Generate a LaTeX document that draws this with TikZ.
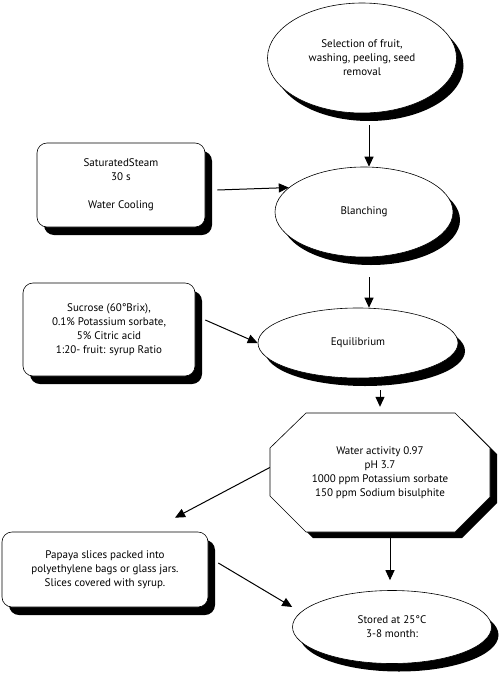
\documentclass[tikz,border=0pt]{standalone}
\usepackage{fontspec}
\setmainfont{PT Sans}
\usetikzlibrary{shapes.geometric,shadows,arrows.meta}
\tikzset{
  shadowed/.style={drop shadow={shadow xshift=7pt, shadow yshift=-8pt, fill=black, opacity=1}},
  base/.style={draw=black, line width=0.6pt, fill=white, align=center, inner sep=0pt,
    font=\fontsize{11}{14}\selectfont, shadowed},
  oval/.style={base, ellipse},
  rbox/.style={base, rectangle, rounded corners=10pt},
  plain/.style={align=center, inner sep=0pt, font=\fontsize{11}{14}\selectfont},
  octline/.style={draw=black, line width=0.6pt, fill=white},
  arr/.style={line width=1pt, -{Triangle[length=10pt,width=9pt]}}
}
\begin{document}
\begin{tikzpicture}[x=1pt,y=-1pt]
\useasboundingbox[fill=white] (0,0) rectangle (500,675);
\node[oval, minimum width=189pt, minimum height=110pt] (sel) at (362,58)
  {Selection of fruit,\\ washing, peeling, seed\\ removal};
\node[oval, minimum width=178pt, minimum height=90pt] (blanch) at (364,212) {Blanching};
\node[oval, minimum width=200pt, minimum height=70pt] (equil) at (358,343) {Equilibrium};
% octagon
\fill[black, shift={(7,6)}] (306,413) -- (455,413) -- (490,448) -- (490,497) -- (455,532)
  -- (306,532) -- (270,496) -- (270,448) -- cycle;
\path[octline] (306,413) -- (455,413) -- (490,448) -- (490,497) -- (455,532)
  -- (306,532) -- (270,496) -- (270,448) -- cycle;
\node[plain, minimum width=220pt, minimum height=119pt] (octa) at (380,472.5)
  {Water activity 0.97\\ pH 3.7\\ 1000 ppm Potassium sorbate\\ 150 ppm Sodium bisulphite};
\node[oval, minimum width=199pt, minimum height=73pt] (stored) at (392,627)
  {Stored at 25°C\\ 3-8 month:};
\node[rbox, minimum width=168pt, minimum height=84pt] (steam) at (121,185)
  {SaturatedSteam\\ 30 s\\[14pt] Water Cooling};
\node[rbox, minimum width=172pt, minimum height=93pt] (sucrose) at (109,329.5)
  {Sucrose (60°Brix),\\ 0.1\% Potassium sorbate,\\ 5\% Citric acid\\ 1:20- fruit: syrup Ratio};
\node[rbox, minimum width=206pt, minimum height=75pt] (papaya) at (105,569.5)
  {Papaya slices packed into\\ polyethylene bags or glass jars.\\ Slices covered with syrup.};

\draw[arr] ([shift={(7,12)}]sel.south) -- ([xshift=5pt]blanch.north);
\draw[arr] ([shift={(5,20)}]blanch.south) -- ([xshift=11pt]equil.north);
\draw[arr] ([shift={(22,12)}]equil.south) -- ([shift={(0,-6)}]octa.north);
\draw[arr] ([shift={(10,6)}]octa.south) -- ([shift={(-2,-10)}]stored.north);
\draw[arr] ([shift={(12,5)}]steam.east) -- (blanch.162);
\draw[arr] ([shift={(10,-9.5)}]sucrose.east) -- (equil.west);
\draw[arr] ([shift={(0,-5)}]octa.west) -- ([shift={(70,-14)}]papaya.north);
\draw[arr] ([shift={(10,-6.5)}]papaya.east) -- ([shift={(0,-20)}]stored.west);
\end{tikzpicture}
\end{document}
